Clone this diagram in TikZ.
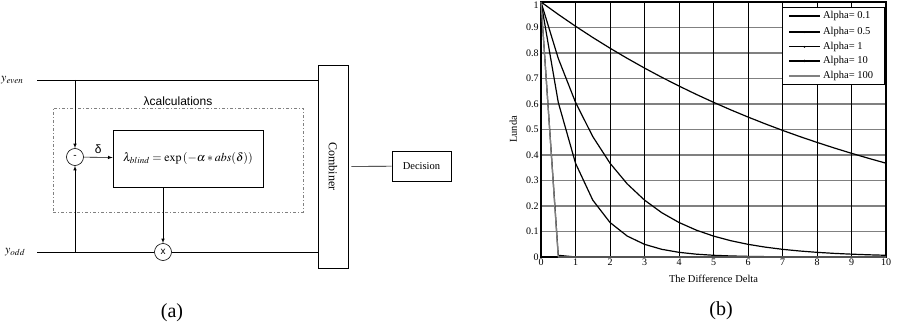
\documentclass[tikz,border=0pt]{standalone}
\usepackage{mathptmx}
\usepackage{fontspec}
\setmainfont{Liberation Serif}
\setsansfont{Liberation Sans}
\usetikzlibrary{arrows,positioning}

\begin{document}
\begin{tikzpicture}[x=1pt,y=-1pt,>=latex,semithick,
                    blk/.style={draw,thick,inner sep=2pt},
                    op/.style={draw,circle,minimum size=17pt,inner sep=0pt,font=\sffamily\fontsize{10}{12}\selectfont},
                    ticklbl/.style={font=\fontsize{10}{12}\selectfont,inner sep=2pt},
                    captxt/.style={font=\fontsize{20}{24}\selectfont}]
  \useasboundingbox (0,0) rectangle (898,329);

  % (a) block diagram
  \coordinate (ein) at (37,80);
  \coordinate (oin) at (37,252);
  \node (yeven) [left=10pt of ein,font=\fontsize{12}{14}\selectfont] {$y_{even}$};
  \node (yodd)  [left=8pt of oin,font=\fontsize{12}{14}\selectfont]  {$y_{odd}$};
  \node[op] (sub) at (75,157) {-};
  \node[blk,minimum width=150pt,minimum height=57pt,font=\fontsize{12}{14}\selectfont] (lam) at (188,158.5)
       {$\lambda_{blind}=\exp\left(-\alpha*abs(\delta)\right)$};
  \node[op] (mul) at (163,252) {x};
  \node[draw=gray,dash pattern=on 3pt off 2pt on 1pt off 2pt,minimum width=250pt,minimum height=104pt] (calc) at (178,160) {};
  \node[above,inner sep=1.5pt,font=\sffamily\fontsize{12}{14}\selectfont] (calclbl) at (calc.north) {λcalculations};
  \node[blk,minimum width=30pt,minimum height=203pt] (comb) at (333,166.5) {};
  \node[rotate=-90,font=\fontsize{12}{14}\selectfont] (comblbl) at (comb.center) {Combiner};
  \node[draw,minimum width=59pt,minimum height=30pt,font=\fontsize{10.5}{12}\selectfont] (dec) at (421.5,166) {Decision};

  \draw (ein) -- (ein -| comb.west);
  \draw (oin) -- (mul.west);
  \draw (mul.east) -- (oin -| comb.west);
  \draw[->] (ein -| sub) -- (sub.north);
  \draw[->] (oin -| sub) -- (sub.south);
  \draw[->] (sub) -- node[above,font=\sffamily\fontsize{12}{14}\selectfont] {δ} (lam);
  \draw[->] (lam.south -| mul) -- (mul.north);
  \draw[shorten <=3pt] (comb) -- (dec);

  \node[captxt] (capa) at (172,313) {(a)};

  % (b) lambda against delta
  \begin{scope}[shift={(541pt,-257pt)},x=34.5pt,y=255pt]
    \foreach \v in {1,...,9}
      \draw[gray,line width=1.3pt] (0,\v/10) -- (10,\v/10);
    \foreach \u in {1,...,9}
      \draw[line width=0.7pt] (\u,0) -- (\u,1);
    \draw[line width=1.1pt] (0,0) rectangle (10,1);
    \foreach \u in {0,...,10}
      \node[ticklbl,below] at (\u,0) {\u};
    \node[ticklbl,left] at (0,0) {0};
    \foreach \v in {1,...,9}
      \node[ticklbl,left] at (0,\v/10) {0.\v};
    \node[ticklbl,left,yshift=-3pt] at (0,1) {1};
    \node[ticklbl,rotate=90,font=\fontsize{10.5}{12}\selectfont] (ylbl) at (-0.8,0.5) {Lunda};
    \node[ticklbl,font=\fontsize{10.5}{12}\selectfont] (xlbl) at (5,-0.086) {The Difference Delta};

    \foreach \a/\c in {0.1/black,0.5/black,1/black,10/black,100/gray}
      \draw[\c,line width=1.2pt,line join=round] plot[domain=0:10,samples=21] (\x,{exp(-min(\a*\x,20))});

    \draw[line width=1.1pt,fill=white] (6.99,0.98) rectangle (9.97,0.675);
    \foreach \a/\c/\yy/\m in {0.1/black/0.945/0,0.5/black/0.882/1,1/black/0.824/1,10/black/0.769/1.3,100/gray/0.71/1}{
      \draw[\c,line width=1.2pt] (7.19,\yy) -- (8.09,\yy);
      \ifdim\m pt>0pt \fill[\c] (7.64,\yy) circle (\m pt); \fi
      \node[ticklbl,right,inner sep=1pt,font=\fontsize{10.5}{12}\selectfont] at (8.14,\yy) {Alpha= \a};
    }
  \end{scope}

  \node[captxt] (capb) at (721,311) {(b)};
\end{tikzpicture}
\end{document}
